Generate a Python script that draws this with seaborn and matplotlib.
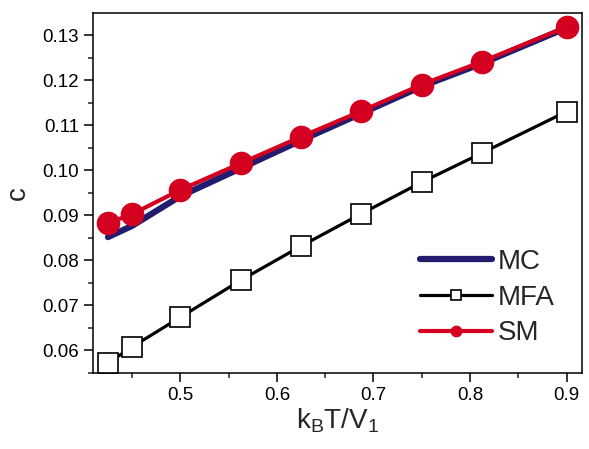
import matplotlib
matplotlib.use("Agg")
import matplotlib.pyplot as plt
from matplotlib.ticker import MultipleLocator
import seaborn as sns

# reduced temperature values
kT = [0.425, 0.45, 0.5, 0.5625, 0.625, 0.6875, 0.75, 0.8125, 0.9]

# concentration c for each method
c_mc = [0.0851, 0.0876, 0.0942, 0.1004, 0.1066, 0.1126, 0.1186, 0.1237, 0.1316]
c_mfa = [0.0571, 0.0607, 0.0673, 0.0755, 0.0831, 0.0903, 0.0973, 0.1038, 0.1130]
c_sm = [0.0882, 0.0902, 0.0956, 0.1015, 0.1074, 0.1131, 0.1190, 0.1241, 0.1318]

navy = "#221c6f"
red = "#d3001f"

sns.set_style("ticks")
plt.rcParams["font.family"] = ["Liberation Sans", "DejaVu Sans"]

fig = plt.figure(figsize=(5.89, 4.49), dpi=100)
ax = fig.add_axes([93 / 589, 76 / 449, 489 / 589, 360 / 449])

sns.lineplot(x=kT, y=c_mc, ax=ax, color=navy, linewidth=4.5, label="MC",
             solid_capstyle="round", zorder=2)
sns.lineplot(x=kT, y=c_mfa, ax=ax, color="black", linewidth=2.3, marker="s",
             markersize=15, markerfacecolor="white", markeredgecolor="black",
             markeredgewidth=1.2, label="MFA", zorder=3)
sns.lineplot(x=kT, y=c_sm, ax=ax, color=red, linewidth=3, marker="o",
             markersize=17, markeredgewidth=0, label="SM", zorder=4)

ax.set_xlim(0.4095, 0.916)
ax.set_ylim(0.0549, 0.1349)
ax.xaxis.set_major_locator(MultipleLocator(0.1))
ax.xaxis.set_minor_locator(MultipleLocator(0.05))
ax.yaxis.set_major_locator(MultipleLocator(0.01))
ax.yaxis.set_minor_locator(MultipleLocator(0.005))
ax.xaxis.set_major_formatter(plt.FuncFormatter(lambda v, p: f"{v:.1f}"))
ax.yaxis.set_major_formatter(plt.FuncFormatter(lambda v, p: f"{v:.2f}"))

for s in ax.spines.values():
    s.set_linewidth(1.1)
    s.set_color("black")
ax.tick_params(which="major", direction="out", length=6.5, width=1.1,
               labelsize=13.5, colors="black")
ax.tick_params(which="minor", direction="out", length=3.5, width=1.1)

ax.set_xlabel(r"k$_\mathregular{B}$T/V$_\mathregular{1}$", fontsize=20, labelpad=2)
ax.set_ylabel("c", fontsize=20, labelpad=8)

leg = ax.legend(loc="upper left", bbox_to_anchor=(0.617, 0.414), frameon=False,
                fontsize=20, handlelength=2.6, handletextpad=0.2,
                labelspacing=0.35, markerscale=0.5)

fig.savefig("out.png", dpi=100)
